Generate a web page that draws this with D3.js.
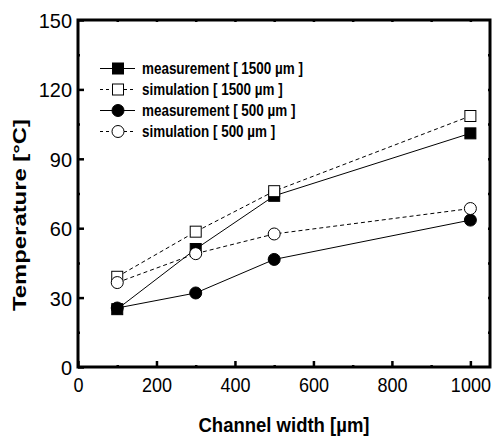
<!DOCTYPE html>
<html>
<head>
<meta charset="utf-8">
<script src="https://cdn.jsdelivr.net/npm/d3@7"></script>
<style>
  body { margin: 0; background: #fff; }
  text { font-family: "Liberation Sans", Arial, sans-serif; fill: #000; }
</style>
</head>
<body>
<div id="chart"></div>
<script>
// channel widths (um)
const widths = [100, 300, 500, 1000];
const meas1500 = [25, 51, 74, 101];
const sim1500 = [39, 58.5, 76, 108.5];
const meas500 = [25.5, 32, 46.5, 63.5];
const sim500 = [36.5, 49, 57.5, 68.5];

const xTicks = [0, 200, 400, 600, 800, 1000];
const yTicks = [0, 30, 60, 90, 120, 150];

const seriesList = [
  {label: "measurement [ 1500 \u00b5m ]", values: meas1500, shape: "square", fill: "#000", dash: null},
  {label: "simulation [ 1500 \u00b5m ]", values: sim1500, shape: "square", fill: "#fff", dash: "4,3"},
  {label: "measurement [ 500 \u00b5m ]", values: meas500, shape: "circle", fill: "#000", dash: null},
  {label: "simulation [ 500 \u00b5m ]", values: sim500, shape: "circle", fill: "#fff", dash: "4,3"}
];

const W = 494, H = 437;
const margin = {left: 78, top: 20, right: 4, bottom: 70};
const width = W - margin.left - margin.right;
const height = H - margin.top - margin.bottom;

const svg = d3.select("#chart").append("svg")
  .attr("width", W)
  .attr("height", H);

const g = svg.append("g")
  .attr("transform", `translate(${margin.left},${margin.top})`);

const x = d3.scaleLinear().domain([0, 1050]).range([0, width]);
const y = d3.scaleLinear().domain([0, 150]).range([height, 0]);

// squeeze text horizontally like the original
function squeeze(sel, k) {
  sel.each(function() {
    const len = this.getComputedTextLength();
    d3.select(this).attr("textLength", len * k).attr("lengthAdjust", "spacingAndGlyphs");
  });
}

// bottom axis: major ticks inward, minor in between
g.append("g")
  .attr("transform", `translate(0,${height})`)
  .call(d3.axisBottom(x).tickValues(d3.range(100, 1001, 200)).tickSize(-2).tickFormat(""))
  .call(a => a.select(".domain").remove())
  .call(a => a.selectAll("line").attr("stroke-width", 2.5));

g.append("g")
  .attr("transform", `translate(0,${height})`)
  .call(d3.axisBottom(x).tickValues(xTicks).tickSize(-6).tickPadding(11).tickFormat(d3.format("d")))
  .call(a => a.select(".domain").remove())
  .call(a => a.selectAll("line").attr("stroke-width", 2.5))
  .call(a => a.selectAll("text").style("font-size", "20px").attr("dy", "0.71em"))
  .call(a => a.selectAll("text").call(t => squeeze(t, 0.9)));

// left axis
g.append("g")
  .call(d3.axisLeft(y).tickValues(d3.range(15, 150, 30)).tickSize(-2).tickFormat(""))
  .call(a => a.select(".domain").remove())
  .call(a => a.selectAll("line").attr("stroke-width", 2.5));

g.append("g")
  .call(d3.axisLeft(y).tickValues(yTicks).tickSize(-6).tickPadding(6))
  .call(a => a.select(".domain").remove())
  .call(a => a.selectAll("line").attr("stroke-width", 2.5))
  .call(a => a.selectAll("text").style("font-size", "21px").attr("dy", "0.36em"))
  .call(a => a.selectAll("text").call(t => squeeze(t, 0.95)));

// top and right small ticks
g.append("g")
  .call(d3.axisTop(x).tickValues(d3.range(100, 1001, 100)).tickSize(-2).tickFormat(""))
  .call(a => a.select(".domain").remove())
  .call(a => a.selectAll("line").attr("stroke-width", 2.5));

g.append("g")
  .attr("transform", `translate(${width},0)`)
  .call(d3.axisRight(y).tickValues(d3.range(15, 150, 15)).tickSize(-2).tickFormat(""))
  .call(a => a.select(".domain").remove())
  .call(a => a.selectAll("line").attr("stroke-width", 2.5));

// frame
g.append("rect")
  .attr("x", 0).attr("y", 0)
  .attr("width", width).attr("height", height)
  .attr("fill", "none")
  .attr("stroke", "#000")
  .attr("stroke-width", 3);

function drawMarker(sel, shape, fill, cx, cy) {
  if (shape === "square") {
    sel.append("rect")
      .attr("x", cx - 5.5).attr("y", cy - 5.5)
      .attr("width", 11).attr("height", 11)
      .attr("fill", fill).attr("stroke", "#000").attr("stroke-width", 1);
  } else {
    sel.append("circle")
      .attr("cx", cx).attr("cy", cy).attr("r", 6)
      .attr("fill", fill).attr("stroke", "#000").attr("stroke-width", 1);
  }
}

const line = d3.line()
  .x((d, i) => x(widths[i]))
  .y(d => y(d));

seriesList.forEach(s => {
  const sg = g.append("g");
  sg.append("path")
    .datum(s.values)
    .attr("d", line)
    .attr("fill", "none")
    .attr("stroke", "#000")
    .attr("stroke-width", 1)
    .attr("stroke-dasharray", s.dash);
  s.values.forEach((v, i) => drawMarker(sg, s.shape, s.fill, x(widths[i]), y(v)));
});

// legend
const legend = svg.append("g").attr("transform", "translate(100,68.5)");
seriesList.forEach((s, i) => {
  const row = legend.append("g").attr("transform", `translate(0,${i * 21})`);
  row.append("line")
    .attr("x1", 0).attr("x2", 35)
    .attr("y1", 0).attr("y2", 0)
    .attr("stroke", "#000").attr("stroke-width", 1)
    .attr("stroke-dasharray", s.dash ? "3,3" : null);
  drawMarker(row, s.shape, s.fill, 18, 0);
  row.append("text")
    .attr("x", 42).attr("y", 0).attr("dy", "0.36em")
    .style("font-size", "16px").style("font-weight", "bold")
    .text(s.label)
    .call(t => squeeze(t, 0.84));
});

// axis titles
svg.append("text")
  .attr("x", 284).attr("y", 432)
  .attr("text-anchor", "middle")
  .style("font-size", "21px").style("font-weight", "bold")
  .text("Channel width [\u00b5m]")
  .attr("textLength", 171)
  .attr("lengthAdjust", "spacingAndGlyphs");

svg.append("text")
  .attr("transform", "translate(26,215) rotate(-90)")
  .attr("text-anchor", "middle")
  .style("font-size", "19px").style("font-weight", "bold")
  .text("Temperature [\u00b0C]")
  .attr("textLength", 192)
  .attr("lengthAdjust", "spacingAndGlyphs");
</script>
</body>
</html>
